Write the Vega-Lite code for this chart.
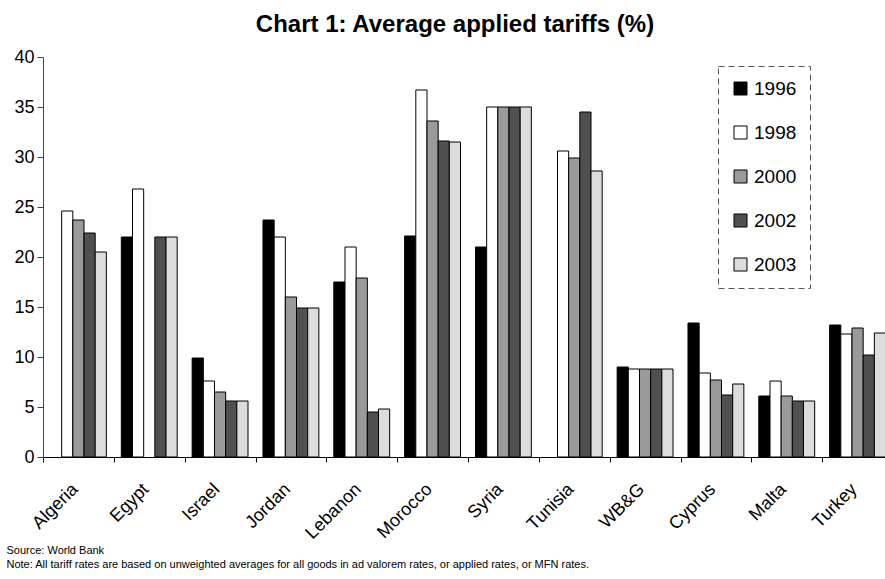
{
  "$schema": "https://vega.github.io/schema/vega-lite/v6.json",
  "autosize": {"type": "none"},
  "width": 842,
  "height": 400,
  "padding": {"left": 43, "top": 57, "right": 0, "bottom": 122},
  "background": "white",
  "title": {
    "text": "Chart 1: Average applied tariffs (%)",
    "font": "Liberation Sans",
    "fontSize": 24,
    "fontWeight": "bold",
    "color": "black",
    "anchor": "middle",
    "frame": "group",
    "baseline": "alphabetic",
    "offset": -8,
    "dx": -9
  },
  "config": {
    "view": {"stroke": null},
    "font": "Liberation Sans",
    "legend": {
      "strokeColor": "#555",
      "strokeDash": [6, 4],
      "strokeWidth": 1,
      "fillColor": "white"
    }
  },
  "data": {
    "values": [
      {"country": "Algeria", "year": "1998", "tariff": 24.6},
      {"country": "Algeria", "year": "2000", "tariff": 23.7},
      {"country": "Algeria", "year": "2002", "tariff": 22.4},
      {"country": "Algeria", "year": "2003", "tariff": 20.5},
      {"country": "Egypt", "year": "1996", "tariff": 22.0},
      {"country": "Egypt", "year": "1998", "tariff": 26.8},
      {"country": "Egypt", "year": "2002", "tariff": 22.0},
      {"country": "Egypt", "year": "2003", "tariff": 22.0},
      {"country": "Israel", "year": "1996", "tariff": 9.9},
      {"country": "Israel", "year": "1998", "tariff": 7.6},
      {"country": "Israel", "year": "2000", "tariff": 6.5},
      {"country": "Israel", "year": "2002", "tariff": 5.6},
      {"country": "Israel", "year": "2003", "tariff": 5.6},
      {"country": "Jordan", "year": "1996", "tariff": 23.7},
      {"country": "Jordan", "year": "1998", "tariff": 22.0},
      {"country": "Jordan", "year": "2000", "tariff": 16.0},
      {"country": "Jordan", "year": "2002", "tariff": 14.9},
      {"country": "Jordan", "year": "2003", "tariff": 14.9},
      {"country": "Lebanon", "year": "1996", "tariff": 17.5},
      {"country": "Lebanon", "year": "1998", "tariff": 21.0},
      {"country": "Lebanon", "year": "2000", "tariff": 17.9},
      {"country": "Lebanon", "year": "2002", "tariff": 4.5},
      {"country": "Lebanon", "year": "2003", "tariff": 4.8},
      {"country": "Morocco", "year": "1996", "tariff": 22.1},
      {"country": "Morocco", "year": "1998", "tariff": 36.7},
      {"country": "Morocco", "year": "2000", "tariff": 33.6},
      {"country": "Morocco", "year": "2002", "tariff": 31.6},
      {"country": "Morocco", "year": "2003", "tariff": 31.5},
      {"country": "Syria", "year": "1996", "tariff": 21.0},
      {"country": "Syria", "year": "1998", "tariff": 35.0},
      {"country": "Syria", "year": "2000", "tariff": 35.0},
      {"country": "Syria", "year": "2002", "tariff": 35.0},
      {"country": "Syria", "year": "2003", "tariff": 35.0},
      {"country": "Tunisia", "year": "1998", "tariff": 30.6},
      {"country": "Tunisia", "year": "2000", "tariff": 29.9},
      {"country": "Tunisia", "year": "2002", "tariff": 34.5},
      {"country": "Tunisia", "year": "2003", "tariff": 28.6},
      {"country": "WB&G", "year": "1996", "tariff": 9.0},
      {"country": "WB&G", "year": "1998", "tariff": 8.8},
      {"country": "WB&G", "year": "2000", "tariff": 8.8},
      {"country": "WB&G", "year": "2002", "tariff": 8.8},
      {"country": "WB&G", "year": "2003", "tariff": 8.8},
      {"country": "Cyprus", "year": "1996", "tariff": 13.4},
      {"country": "Cyprus", "year": "1998", "tariff": 8.4},
      {"country": "Cyprus", "year": "2000", "tariff": 7.7},
      {"country": "Cyprus", "year": "2002", "tariff": 6.2},
      {"country": "Cyprus", "year": "2003", "tariff": 7.3},
      {"country": "Malta", "year": "1996", "tariff": 6.1},
      {"country": "Malta", "year": "1998", "tariff": 7.6},
      {"country": "Malta", "year": "2000", "tariff": 6.1},
      {"country": "Malta", "year": "2002", "tariff": 5.6},
      {"country": "Malta", "year": "2003", "tariff": 5.6},
      {"country": "Turkey", "year": "1996", "tariff": 13.2},
      {"country": "Turkey", "year": "1998", "tariff": 12.3},
      {"country": "Turkey", "year": "2000", "tariff": 12.9},
      {"country": "Turkey", "year": "2002", "tariff": 10.2},
      {"country": "Turkey", "year": "2003", "tariff": 12.4}
    ]
  },
  "mark": {"type": "bar", "stroke": "black", "strokeWidth": 1},
  "encoding": {
    "x": {
      "field": "country",
      "type": "nominal",
      "sort": ["Algeria", "Egypt", "Israel", "Jordan", "Lebanon", "Morocco", "Syria", "Tunisia", "WB&G", "Cyprus", "Malta", "Turkey"],
      "scale": {"range": [0, 850], "paddingInner": 0, "paddingOuter": 0},
      "axis": {
        "title": ["Source: World Bank", "Note: All tariff rates are based on unweighted averages for all goods in ad valorem rates, or applied rates, or MFN rates."],
        "titleFont": "Liberation Sans",
        "titleFontSize": 11,
        "titleFontWeight": "normal",
        "titleColor": "black",
        "titleAnchor": "start",
        "titleAlign": "left",
        "titleBaseline": "alphabetic",
        "titleX": -37,
        "titleY": 96,
        "titleLineHeight": 14,
        "labelAngle": -45,
        "labelAlign": "right",
        "labelBaseline": "top",
        "labelFontSize": 18,
        "labelColor": "black",
        "labelPadding": 18,
        "labelOffset": -10,
        "labelBound": false,
        "labelOverlap": false,
        "tickBand": "extent",
        "tickSize": 5,
        "tickColor": "black",
        "domainColor": "black",
        "grid": false
      }
    },
    "xOffset": {
      "field": "year",
      "type": "nominal",
      "scale": {"paddingInner": 0, "paddingOuter": 0.67}
    },
    "y": {
      "field": "tariff",
      "type": "quantitative",
      "scale": {"domain": [0, 40], "nice": false},
      "axis": {
        "title": null,
        "values": [0, 5, 10, 15, 20, 25, 30, 35, 40],
        "labelFontSize": 18,
        "labelColor": "black",
        "labelPadding": 3,
        "tickSize": 6,
        "tickColor": "#444",
        "domainColor": "#444",
        "grid": false
      }
    },
    "fill": {
      "field": "year",
      "type": "nominal",
      "scale": {
        "domain": ["1996", "1998", "2000", "2002", "2003"],
        "range": ["#000000", "#ffffff", "#9a9a9a", "#505050", "#dcdcdc"]
      },
      "legend": {
        "title": null,
        "orient": "none",
        "legendX": 675,
        "legendY": 9,
        "padding": 13,
        "symbolType": "square",
        "symbolSize": 169,
        "symbolStrokeColor": "black",
        "symbolStrokeWidth": 1,
        "symbolOpacity": 1,
        "labelFontSize": 19,
        "labelColor": "black",
        "labelOffset": 4,
        "rowPadding": 24
      }
    }
  }
}
